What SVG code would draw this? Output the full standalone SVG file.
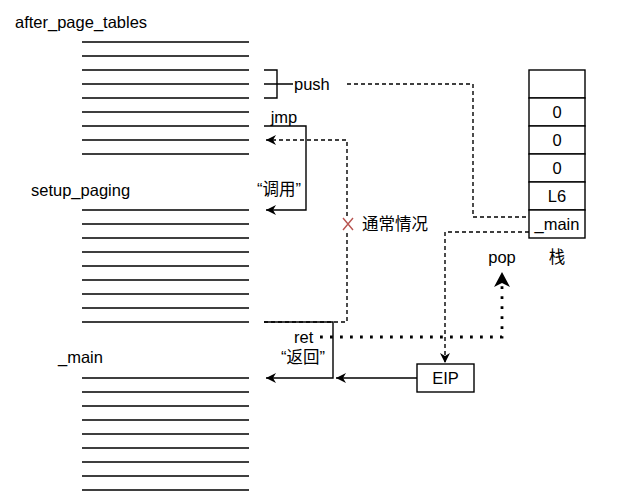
<svg xmlns="http://www.w3.org/2000/svg" width="618" height="502" viewBox="0 0 618 502">
<defs>
<style>
text{font-family:"Liberation Sans",Arial,"Noto Sans CJK SC",sans-serif;font-size:16.5px;fill:#000;dominant-baseline:central}
.mid{text-anchor:middle}
.ln{stroke:#000;stroke-width:1.4;fill:none}
.solid{stroke:#000;stroke-width:1.4;fill:none}
.dash{stroke:#000;stroke-width:1.4;fill:none;stroke-dasharray:4 3}
.dot{stroke:#000;stroke-width:2.8;fill:none;stroke-dasharray:2.8 7.2}
.cell{fill:#fff;stroke:#000;stroke-width:1.4}
</style>
<marker id="arr" markerUnits="userSpaceOnUse" markerWidth="12" markerHeight="12" refX="10" refY="5" orient="auto">
<path d="M0,0 L10,5 L0,10 L3,5 Z" fill="#000"/>
</marker>
<marker id="arrBig" markerUnits="userSpaceOnUse" markerWidth="18" markerHeight="18" refX="15" refY="8" orient="auto">
<path d="M0,0 L15,8 L0,16 L4,8 Z" fill="#000"/>
</marker>
</defs>

<g id="after_page_tables">
<text x="15" y="22">after_page_tables</text>
<path class="ln" d="M82,42H249M82,56H249M82,70H249M82,84H249M82,98H249M82,112H249M82,126H249M82,140H249M82,154H249"/>
</g>

<g id="setup_paging">
<text x="31" y="190">setup_paging</text>
<path class="ln" d="M82,210H249M82,224H249M82,238H249M82,252H249M82,266H249M82,280H249M82,294H249M82,308H249M82,322H249"/>
</g>

<g id="main_code">
<text x="58" y="357">_main</text>
<path class="ln" d="M82,378H249M82,392H249M82,406H249M82,420H249M82,434H249M82,448H249M82,462H249M82,476H249M82,490H249"/>
</g>

<g id="push_bracket">
<path class="ln" d="M264,70H277V98H264M264,84H293"/>
<text x="294" y="84">push</text>
</g>

<g id="stack">
<rect class="cell" x="529" y="70" width="56" height="28"/>
<rect class="cell" x="529" y="98" width="56" height="28"/>
<rect class="cell" x="529" y="126" width="56" height="28"/>
<rect class="cell" x="529" y="154" width="56" height="28"/>
<rect class="cell" x="529" y="182" width="56" height="28"/>
<rect class="cell" x="529" y="210" width="56" height="28"/>
<text class="mid" x="557" y="112">0</text>
<text class="mid" x="557" y="140">0</text>
<text class="mid" x="557" y="168">0</text>
<text class="mid" x="557" y="196">L6</text>
<text class="mid" x="557" y="224">_main</text>
<text class="mid" x="557" y="257">栈</text>
</g>

<g id="eip">
<rect class="cell" x="417" y="364" width="57" height="28"/>
<text class="mid" x="445.5" y="378">EIP</text>
</g>

<g id="connectors">
<path class="dash" d="M347,84H473V217H529"/>
<path class="solid" d="M264,126H306V210H266" marker-end="url(#arr)"/>
<text class="mid" x="284" y="117">jmp</text>
<text class="mid" x="279" y="189">“调用”</text>
<path class="dash" d="M264,322H347V140H266" marker-end="url(#arr)"/>
<g id="cross_label">
<rect x="341" y="216" width="14" height="16" fill="#fff"/>
<path d="M343,218L353,230M353,218L343,230" stroke="#b85450" stroke-width="1.4" fill="none"/>
<text x="362" y="224">通常情况</text>
</g>
<path class="solid" d="M264,322H333V378H266" marker-end="url(#arr)"/>
<path class="solid" d="M417,378H336" marker-end="url(#arr)"/>
<path class="dash" d="M529,232H445V363" marker-end="url(#arr)"/>
<path class="dot" d="M320,337H502V272" marker-end="url(#arrBig)"/>
<text x="294" y="337">ret</text>
<text class="mid" x="303" y="357">“返回”</text>
<text class="mid" x="502" y="257">pop</text>
</g>
</svg>
